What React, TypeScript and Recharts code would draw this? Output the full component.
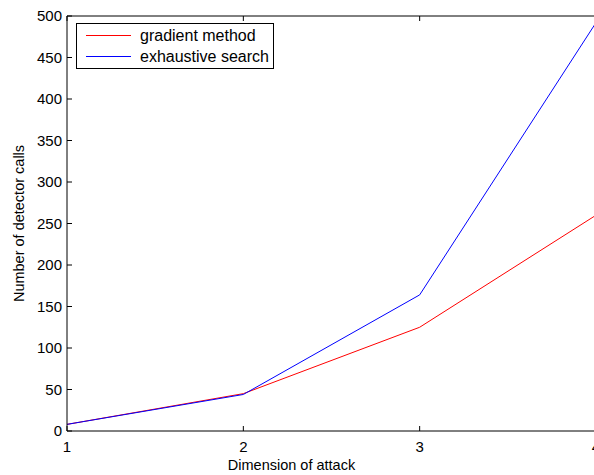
import { LineChart, Line, XAxis, YAxis, Legend } from 'recharts';

const dimensions = [1, 2, 3, 4];
const gradientCalls = [8, 45, 125, 260];
const exhaustiveCalls = [8, 44, 164, 492];
const seriesKeys = ['gradient', 'exhaustive'];
const seriesNames = ['gradient method', 'exhaustive search'];
const seriesColors = ['#ff0000', '#0000ff'];
const xTicks = [1, 2, 3, 4];
const yTicks = [0, 50, 100, 150, 200, 250, 300, 350, 400, 450, 500];

const chartData = dimensions.map((d, i) => ({
  dim: d,
  gradient: gradientCalls[i],
  exhaustive: exhaustiveCalls[i],
}));

const FONT = '"Liberation Sans", Arial, Helvetica, sans-serif';

const LegendBox = () => (
  <div
    style={{
      border: '1px solid #000',
      background: '#fff',
      width: 198,
      height: 46,
      boxSizing: 'border-box',
      padding: '1px 0 0 9px',
      fontFamily: FONT,
      fontSize: 16,
      lineHeight: '21px',
      color: '#000',
      textAlign: 'left',
    }}
  >
    {seriesNames.map((name, i) => (
      <div key={name} style={{ display: 'flex', alignItems: 'center', height: 21 }}>
        <svg width={45} height={3} style={{ marginRight: 9, display: 'block' }}>
          <line x1={0} y1={1.5} x2={45} y2={1.5} stroke={seriesColors[i]} strokeWidth={1} />
        </svg>
        <span>{name}</span>
      </div>
    ))}
  </div>
);

const YLabel = ({ viewBox }: any) => {
  const cy = viewBox.y + viewBox.height / 2;
  const cx = viewBox.x + 19;
  return (
    <text
      x={cx}
      y={cy}
      transform={`rotate(-90 ${cx} ${cy})`}
      textAnchor="middle"
      dominantBaseline="central"
      fontFamily={FONT}
      fontSize={14.5}
      fill="#000"
    >
      Number of detector calls
    </text>
  );
};

const XLabel = ({ viewBox }: any) => (
  <text
    x={viewBox.x + viewBox.width / 2 - 40}
    y={viewBox.y + 34}
    textAnchor="middle"
    dominantBaseline="central"
    fontFamily={FONT}
    fontSize={14.5}
    fill="#000"
  >
    Dimension of attack
  </text>
);

export default function App() {
  const tickStyle = { fill: '#000', fontSize: 15, fontFamily: FONT };
  return (
    <div style={{ position: 'absolute', left: 0, top: 0, width: 594, height: 475, overflow: 'hidden', background: '#fff' }}>
      <LineChart width={612} height={475} data={chartData} margin={{ top: 0, right: 0, bottom: 0, left: 0 }}>
        <XAxis
          xAxisId="bottom"
          dataKey="dim"
          type="number"
          domain={[1, 4]}
          ticks={xTicks}
          height={44}
          tickSize={-5}
          tickMargin={15}
          tick={tickStyle}
          axisLine={{ stroke: '#000' }}
          tickLine={{ stroke: '#000' }}
          label={<XLabel />}
        />
        <XAxis
          xAxisId="top"
          orientation="top"
          dataKey="dim"
          type="number"
          domain={[1, 4]}
          ticks={xTicks}
          height={16}
          tickSize={-5}
          tickFormatter={() => ''}
          axisLine={{ stroke: '#000' }}
          tickLine={{ stroke: '#000' }}
        />
        <YAxis
          yAxisId="left"
          type="number"
          domain={[0, 500]}
          ticks={yTicks}
          width={67}
          tickSize={-5}
          tickMargin={10}
          tick={tickStyle}
          axisLine={{ stroke: '#000' }}
          tickLine={{ stroke: '#000' }}
          label={<YLabel />}
        />
        <YAxis
          yAxisId="right"
          orientation="right"
          type="number"
          domain={[0, 500]}
          ticks={yTicks}
          width={16}
          tickSize={-5}
          tickFormatter={() => ''}
          axisLine={{ stroke: '#000' }}
          tickLine={{ stroke: '#000' }}
        />
        <Legend
          verticalAlign="middle"
          align="center"
          layout="vertical"
          wrapperStyle={{ position: 'absolute', left: 76, top: 23, width: 'auto', height: 'auto' }}
          content={<LegendBox />}
        />
        {seriesKeys.map((key, i) => (
          <Line
            key={key}
            xAxisId="bottom"
            yAxisId="left"
            dataKey={key}
            name={seriesNames[i]}
            stroke={seriesColors[i]}
            strokeWidth={1}
            dot={false}
            isAnimationActive={false}
          />
        ))}
      </LineChart>
    </div>
  );
}
